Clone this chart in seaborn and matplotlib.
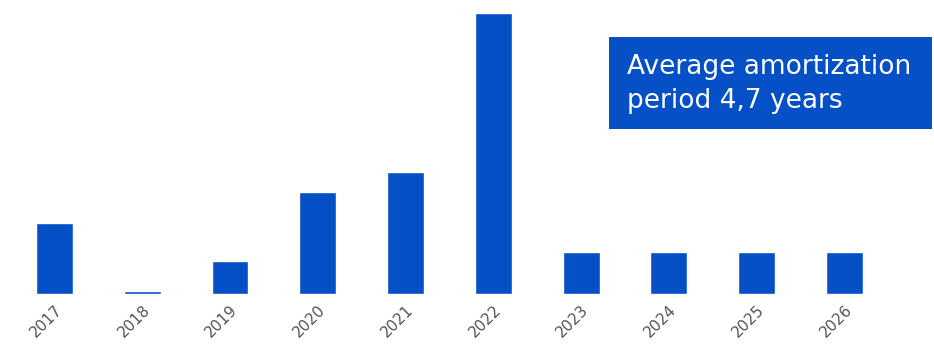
import matplotlib
matplotlib.use("Agg")
import pandas as pd
from matplotlib import pyplot as plt
import seaborn as sns
from matplotlib.patches import Rectangle

# Values (relative heights)
years = ["2017", "2018", "2019", "2020", "2021", "2022", "2023", "2024", "2025", "2026"]
amounts = [71, 3.5, 33, 102, 122, 281, 42, 42, 42, 42]

df = pd.DataFrame({"Year": years, "Amount": amounts})

sns.set_theme(style="white")
plt.rcParams["font.family"] = ["DejaVu Sans"]

fig = plt.figure(figsize=(9.34, 3.44), dpi=100)
ax = fig.add_axes([0, 50 / 344, 1, 284 / 344])

sns.barplot(data=df, x="Year", y="Amount", color="#0550C6", width=0.42,
            saturation=1, ax=ax)

ax.set_xlim(-0.62, 10.02)
ax.set_ylim(0, 284)
ax.set_xlabel("")
ax.set_ylabel("")
ax.set_yticks([])
for s in ax.spines.values():
    s.set_visible(False)
ax.tick_params(axis="x", length=0, pad=6)
plt.setp(ax.get_xticklabels(), rotation=45, ha="right", rotation_mode="anchor",
         color="#555555", fontsize=11)

# Blue info box
fig.patches.append(Rectangle((609 / 934, 1 - 129 / 344), 323 / 934, 92 / 344,
                             transform=fig.transFigure, facecolor="#0550C6",
                             edgecolor="none", zorder=5))
fig.text(627 / 934, 1 - 84 / 344, "Average amortization\nperiod 4,7 years",
         color="white", fontsize=19, linespacing=1.45, va="center", ha="left",
         zorder=6)

fig.savefig("out.png", dpi=100)
